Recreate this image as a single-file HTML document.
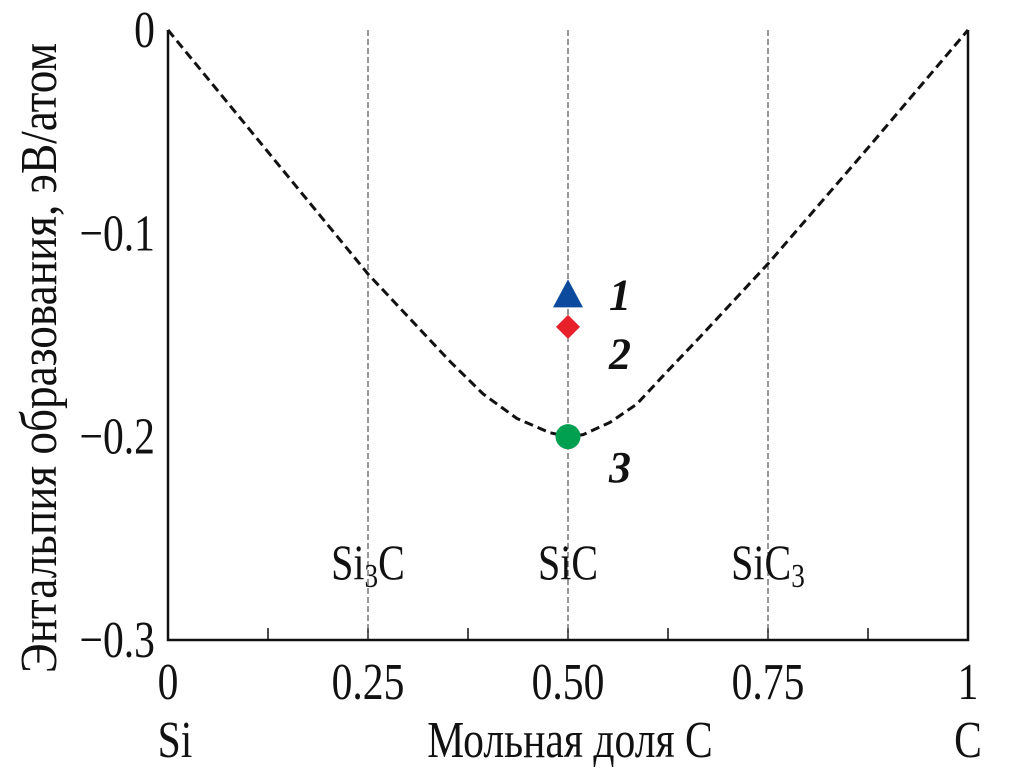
<!DOCTYPE html>
<html><head><meta charset="utf-8"><style>
html,body{margin:0;padding:0;background:#fff;}
svg{display:block;}
text{font-family:"Liberation Serif",serif;fill:#111;}
</style></head><body>
<svg id="chart" width="1010" height="780" viewBox="0 0 1010 780"></svg>
<script>
const curveX=[0,0.125,0.25,0.3525,0.394,0.436,0.477,0.5,0.519,0.5525,0.586,0.619,0.665,0.75,0.875,1];
const curveY=[0,-0.06,-0.12,-0.163,-0.179,-0.191,-0.198,-0.2,-0.199,-0.193,-0.184,-0.17,-0.151,-0.115,-0.058,0];
const xTicks=[0,0.25,0.5,0.75,1];
const xTickLabels=["0","0.25","0.50","0.75","1"];
const yTicks=[0,-0.1,-0.2,-0.3];
const yTickLabels=["0","\u22120.1","\u22120.2","\u22120.3"];
const phaseX=[0.25,0.5,0.75];
const phaseLabels=[["Si","3","C"],["SiC","",""],["SiC","3",""]];
const pointX=[0.5,0.5,0.5];
const pointY=[-0.13,-0.146,-0.2];
const pointLabels=["1","2","3"];
const pointLabelY=[-0.13,-0.159,-0.215];

const L=168,R=968,T=30,B=640;
const sx=v=>L+v*(R-L);
const sy=v=>T+(-v)/0.3*(B-T);
const svg=document.getElementById('chart');
const NS="http://www.w3.org/2000/svg";
function mk(tag,attrs,parent){const e=document.createElementNS(NS,tag);for(const k in attrs)e.setAttribute(k,attrs[k]);(parent||svg).appendChild(e);return e;}

let ax=mk('path',{d:`M${L},${T} V${B} H${R} V${T}`,fill:'none',stroke:'#111','stroke-width':2.5});


for(let i=1;i<8;i++){const t=mk('line',{x1:sx(i/8),x2:sx(i/8),y1:B,y2:B-12,stroke:'#111','stroke-width':1.5});

}
xTicks.forEach((v,i)=>{const t=mk('text',{x:sx(v),y:699,'font-size':52,'text-anchor':'middle',transform:`translate(${sx(v)},0) scale(0.8,1) translate(${-sx(v)},0)`});t.textContent=xTickLabels[i];

});
yTicks.forEach((v,i)=>{const t=mk('text',{x:155,y:sy(v)+17,'font-size':52,'text-anchor':'end',transform:`translate(155,0) scale(0.8,1) translate(-155,0)`});t.textContent=yTickLabels[i];

});
phaseX.forEach((v,i)=>{const l=mk('line',{x1:sx(v),x2:sx(v),y1:T,y2:B,stroke:'#333','stroke-width':1,'stroke-dasharray':'6,3'});


const t=mk('text',{x:sx(v),y:579,'font-size':50,'text-anchor':'middle',transform:`translate(${sx(v)},0) scale(0.8,1) translate(${-sx(v)},0)`});


const p=phaseLabels[i];const a=document.createElementNS(NS,'tspan');a.textContent=p[0];t.appendChild(a);
if(p[1]){const s=document.createElementNS(NS,'tspan');s.setAttribute('font-size',34);s.setAttribute('dy',8);s.textContent=p[1];t.appendChild(s);}
if(p[2]){const c=document.createElementNS(NS,'tspan');c.setAttribute('dy',-8);c.textContent=p[2];t.appendChild(c);}});
let d=curveX.map((x,i)=>(i?'L':'M')+sx(x).toFixed(1)+','+sy(curveY[i]).toFixed(1)).join(' ');
let cv=mk('path',{d:d,fill:'none',stroke:'#111','stroke-width':3,'stroke-dasharray':'9,5','stroke-linejoin':'round'});


let px=sx(pointX[0]),py=sy(pointY[0]);
let tri=mk('polygon',{points:`${px},${py-15} ${px-15},${py+13} ${px+15},${py+13}`,fill:'#0b4a9c'});


px=sx(pointX[1]);py=sy(pointY[1]);
let dia=mk('polygon',{points:`${px},${py-12} ${px+12},${py} ${px},${py+12} ${px-12},${py}`,fill:'#e8202a'});


let cir=mk('circle',{cx:sx(pointX[2]),cy:sy(pointY[2]),r:12.5,fill:'#00a050'});


pointLabels.forEach((s,i)=>{const t=mk('text',{x:620,y:sy(pointLabelY[i])+15,'font-size':44,'font-style':'italic','font-weight':'bold','text-anchor':'middle'});t.textContent=s;

});
let xt=mk('text',{x:570,y:757,'font-size':52,'text-anchor':'middle',transform:'translate(570,0) scale(0.8,1) translate(-570,0)'});xt.textContent='Мольная доля C';


let si=mk('text',{x:175,y:757,'font-size':52,'text-anchor':'middle',transform:'translate(175,0) scale(0.8,1) translate(-175,0)'});si.textContent='Si';


let ce=mk('text',{x:968,y:757,'font-size':52,'text-anchor':'middle',transform:'translate(968,0) scale(0.8,1) translate(-968,0)'});ce.textContent='C';


let yt=mk('text',{x:0,y:0,'font-size':52,'text-anchor':'middle',transform:'translate(56,358) rotate(-90) scale(0.87,1)'});yt.textContent='Энтальпия образования, эВ/атом';


</script>
</body></html>
